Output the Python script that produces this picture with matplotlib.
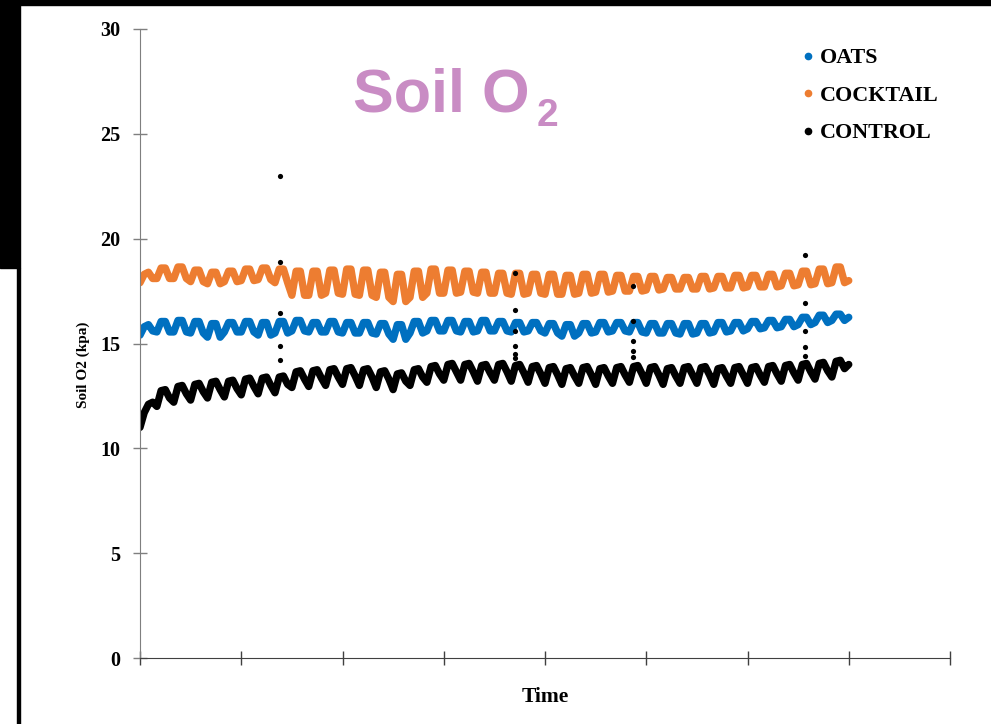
import numpy as np
import matplotlib
matplotlib.use('Agg')
import matplotlib.pyplot as plt
from matplotlib.lines import Line2D
from matplotlib.patches import Rectangle

# soil O2 readings (kPa), four per day, plus the last reading at day 42
oats = [
    15.4, 15.8, 15.9, 15.6,
    15.55, 16.05, 16.05, 15.55,
    15.55, 16.1, 16.1, 15.55,
    15.5, 16.05, 16.05, 15.5,
    15.3, 15.95, 15.95, 15.3,
    15.55, 16.0, 16.0, 15.55,
    15.55, 16.05, 16.05, 15.55,
    15.4, 16.0, 16.0, 15.4,
    15.5, 16.05, 16.05, 15.5,
    15.6, 16.1, 16.1, 15.6,
    15.55, 16.0, 16.0, 15.55,
    15.55, 16.05, 16.05, 15.55,
    15.5, 16.0, 16.0, 15.5,
    15.5, 16.0, 16.0, 15.5,
    15.45, 15.95, 15.95, 15.45,
    15.2, 15.9, 15.9, 15.2,
    15.5, 16.05, 16.05, 15.5,
    15.6, 16.1, 16.1, 15.6,
    15.6, 16.1, 16.1, 15.6,
    15.55, 16.05, 16.05, 15.55,
    15.6, 16.1, 16.1, 15.6,
    15.6, 16.05, 16.05, 15.6,
    15.55, 16.0, 16.0, 15.55,
    15.6, 16.0, 16.0, 15.6,
    15.5, 15.95, 15.95, 15.5,
    15.35, 15.9, 15.9, 15.35,
    15.5, 15.95, 15.95, 15.5,
    15.55, 16.0, 16.0, 15.55,
    15.6, 16.0, 16.0, 15.6,
    15.55, 16.0, 16.0, 15.55,
    15.5, 15.95, 15.95, 15.5,
    15.5, 15.95, 15.95, 15.5,
    15.45, 15.95, 15.95, 15.45,
    15.5, 15.95, 15.95, 15.5,
    15.55, 16.0, 16.0, 15.55,
    15.6, 16.0, 16.0, 15.6,
    15.7, 16.05, 16.05, 15.7,
    15.75, 16.1, 16.1, 15.75,
    15.8, 16.15, 16.15, 15.8,
    15.9, 16.25, 16.25, 15.9,
    16.0, 16.35, 16.35, 16.0,
    16.1, 16.4, 16.4, 16.1,
    16.25,
]

cocktail = [
    17.9, 18.3, 18.4, 18.1,
    18.1, 18.6, 18.6, 18.1,
    18.1, 18.65, 18.65, 18.1,
    17.95, 18.5, 18.5, 17.95,
    17.85, 18.4, 18.4, 17.85,
    17.95, 18.45, 18.45, 17.95,
    18.0, 18.55, 18.55, 18.0,
    18.05, 18.6, 18.6, 18.05,
    17.9, 18.55, 18.55, 17.9,
    17.3, 18.45, 18.45, 17.3,
    17.3, 18.45, 18.45, 17.3,
    17.4, 18.5, 18.5, 17.4,
    17.35, 18.55, 18.55, 17.35,
    17.3, 18.5, 18.5, 17.3,
    17.2, 18.4, 18.4, 17.2,
    17.0, 18.3, 18.3, 17.0,
    17.2, 18.45, 18.45, 17.2,
    17.4, 18.55, 18.55, 17.4,
    17.4, 18.5, 18.5, 17.4,
    17.45, 18.45, 18.45, 17.45,
    17.4, 18.4, 18.4, 17.4,
    17.4, 18.35, 18.35, 17.4,
    17.35, 18.35, 18.35, 17.35,
    17.4, 18.3, 18.3, 17.4,
    17.35, 18.3, 18.3, 17.35,
    17.35, 18.25, 18.25, 17.35,
    17.4, 18.3, 18.3, 17.4,
    17.45, 18.3, 18.3, 17.45,
    17.5, 18.25, 18.25, 17.5,
    17.5, 18.2, 18.2, 17.5,
    17.55, 18.2, 18.2, 17.55,
    17.6, 18.15, 18.15, 17.6,
    17.6, 18.15, 18.15, 17.6,
    17.6, 18.2, 18.2, 17.6,
    17.65, 18.2, 18.2, 17.65,
    17.65, 18.25, 18.25, 17.65,
    17.7, 18.25, 18.25, 17.7,
    17.7, 18.3, 18.3, 17.7,
    17.75, 18.35, 18.35, 17.75,
    17.8, 18.45, 18.45, 17.8,
    17.85, 18.55, 18.55, 17.85,
    17.9, 18.65, 18.65, 17.9,
    18.0,
]

control = [
    11.0, 11.7, 12.1, 12.2,
    12.0, 12.75, 12.8, 12.4,
    12.2, 12.95, 13.0, 12.6,
    12.3, 13.05, 13.1, 12.7,
    12.4, 13.15, 13.2, 12.8,
    12.45, 13.2, 13.25, 12.85,
    12.55, 13.3, 13.35, 12.95,
    12.6, 13.35, 13.4, 13.0,
    12.65, 13.4, 13.45, 13.05,
    12.9, 13.65, 13.7, 13.3,
    12.95, 13.7, 13.75, 13.35,
    13.0, 13.75, 13.8, 13.4,
    13.05, 13.8, 13.85, 13.45,
    13.0, 13.75, 13.8, 13.4,
    12.9, 13.65, 13.7, 13.3,
    12.8, 13.55, 13.6, 13.2,
    13.0, 13.75, 13.8, 13.4,
    13.15, 13.9, 13.95, 13.55,
    13.25, 14.0, 14.05, 13.65,
    13.25, 14.0, 14.05, 13.65,
    13.2, 13.95, 14.0, 13.6,
    13.25, 14.0, 14.05, 13.65,
    13.2, 13.95, 14.0, 13.6,
    13.15, 13.9, 13.95, 13.55,
    13.1, 13.85, 13.9, 13.5,
    13.05, 13.8, 13.85, 13.45,
    13.1, 13.85, 13.9, 13.5,
    13.05, 13.8, 13.85, 13.45,
    13.1, 13.85, 13.9, 13.5,
    13.15, 13.9, 13.95, 13.55,
    13.1, 13.85, 13.9, 13.5,
    13.05, 13.8, 13.85, 13.45,
    13.1, 13.85, 13.9, 13.5,
    13.1, 13.85, 13.9, 13.5,
    13.05, 13.8, 13.85, 13.45,
    13.1, 13.85, 13.9, 13.5,
    13.1, 13.85, 13.9, 13.5,
    13.15, 13.9, 13.95, 13.55,
    13.2, 13.95, 14.0, 13.6,
    13.25, 14.0, 14.05, 13.65,
    13.3, 14.05, 14.1, 13.7,
    13.4, 14.15, 14.2, 13.8,
    14.0,
]

# stray CONTROL readings (day, kPa)
spike_days = [8.3] * 5 + [22.2] * 6 + [29.2] * 5 + [39.4] * 5
spike_vals = [23.0, 18.9, 16.45, 14.9, 14.2,
              18.35, 16.6, 15.6, 14.9, 14.5, 14.3,
              17.75, 16.05, 15.1, 14.65, 14.35,
              19.2, 16.95, 15.6, 14.85, 14.4]

series_names = ['OATS', 'COCKTAIL', 'CONTROL']
series_colors = ['#0070C0', '#ED7D31', '#000000']

days = np.linspace(0, 42, len(oats))

fig = plt.figure(figsize=(9.91, 7.24), dpi=100)
ax = fig.add_axes([140/991, 66/724, 810/991, 629/724])

serif = 'Liberation Serif'
for vals, col in zip([oats, cocktail, control], series_colors):
    ax.plot(days, vals, color=col, lw=5.3, solid_capstyle='round',
            solid_joinstyle='round', zorder=2)
ax.scatter(spike_days, spike_vals, s=14, color='black', zorder=3, lw=0)

ax.set_xlim(0, 48)
ax.set_ylim(0, 30)
ax.set_xticks(np.arange(0, 49, 6))
ax.set_xticklabels([])
ax.set_yticks(np.arange(0, 31, 5))
ax.tick_params(direction='inout', length=10, width=1.0, pad=9)
ax.tick_params(axis='y', colors='#7f7f7f', labelcolor='black')
ax.tick_params(axis='x', colors='#404040')
for lab in ax.get_yticklabels():
    lab.set_fontfamily(serif)
    lab.set_fontweight('bold')
    lab.set_fontsize(14.5)
for s in ['top', 'right']:
    ax.spines[s].set_visible(False)
ax.spines['left'].set_color('#7f7f7f')
ax.spines['bottom'].set_color('#404040')

ax.set_xlabel('Time', fontfamily=serif, fontweight='bold', fontsize=15.5, labelpad=7)
ax.set_ylabel('Soil O2 (kpa)', fontfamily=serif, fontweight='bold', fontsize=11)
ax.yaxis.set_label_coords(-0.0617, 0.466)

handles = [Line2D([], [], marker='o', ls='none', color=c, markersize=4.5) for c in series_colors]
fig.legend(handles, series_names, loc='upper left', bbox_to_anchor=(790/991, 1 - 37/724),
           frameon=False, prop={'family': serif, 'weight': 'bold', 'size': 15.8},
           handlelength=0.6, handletextpad=0.25, labelspacing=0.78, borderpad=0)

# title with subscript
fig.text(353/991, 1 - 112/724, 'Soil O', fontfamily='Liberation Sans', fontsize=44,
         fontweight='bold', color='#C98CC4', va='baseline', ha='left')
fig.text(537/991, 1 - 126/724, '2', fontfamily='Liberation Sans', fontsize=28,
         fontweight='bold', color='#C98CC4', va='baseline', ha='left')

# slide frame edges
fig.patches.append(Rectangle((0, 1 - 5/724), 1, 5/724, transform=fig.transFigure,
                             color='black', zorder=0))
fig.patches.append(Rectangle((0, 1 - 268/724), 20/991, 268/724, transform=fig.transFigure,
                             color='black', zorder=0))
fig.patches.append(Rectangle((17/991, 0), 3/991, 1 - 268/724, transform=fig.transFigure,
                             color='black', zorder=0))

fig.savefig('out.png', dpi=100)
